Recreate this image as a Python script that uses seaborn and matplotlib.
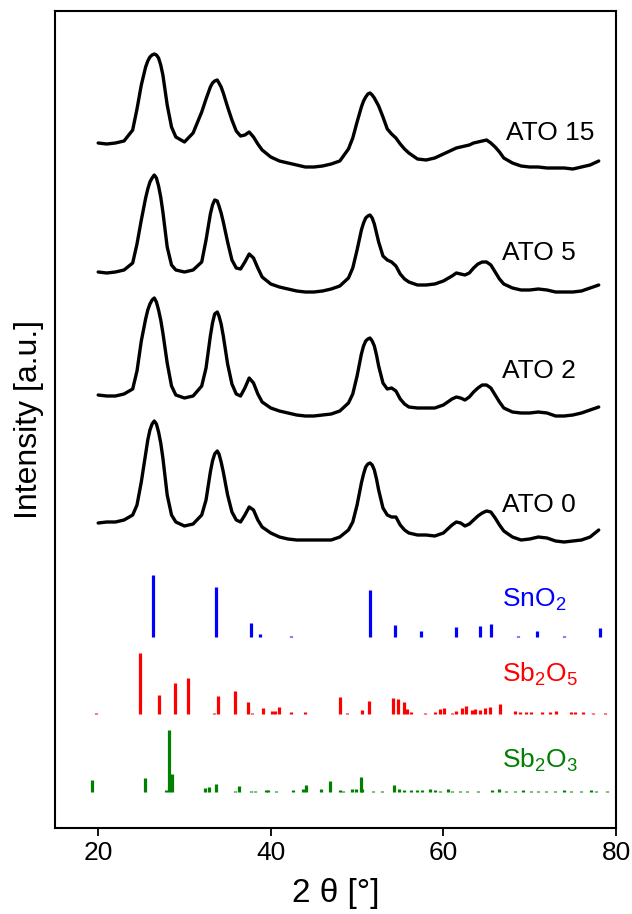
import matplotlib
matplotlib.use("Agg")
import matplotlib.pyplot as plt
import pandas as pd
import seaborn as sns

# 2theta grid shared by the four measured patterns
angles = [20, 21, 22, 23, 24, 24.5, 25, 25.5, 25.75, 26,
          26.25, 26.5, 26.75, 27, 27.25, 27.5, 28, 28.5, 29, 30,
          31, 32, 32.5, 33, 33.25, 33.5, 33.8, 34, 34.25, 34.5,
          35, 35.5, 36, 36.5, 37, 37.5, 38, 38.5, 39, 40,
          41, 42, 43, 44, 45, 46, 47, 48, 49, 49.5,
          50, 50.5, 50.75, 51, 51.25, 51.5, 51.75, 52, 52.25, 52.5,
          53, 53.5, 54, 54.5, 55, 55.5, 56, 57, 58, 59,
          60, 61, 61.5, 62, 62.5, 63, 63.5, 64, 64.5, 65,
          65.5, 66, 66.5, 67, 68, 69, 70, 71, 72, 73,
          74, 75, 76, 77, 78]

ato0 = [17, 18, 18, 20, 25, 35, 58, 86, 100, 110,
        116, 119, 116, 108, 97, 82, 45, 25, 18, 14,
        16, 25, 40, 68, 79, 86, 89, 86, 78, 68,
        45, 28, 20, 18, 25, 33, 30, 20, 13, 7,
        3, 1, 0, 0, 0, 0, 0, 3, 10, 18,
        35, 57, 66, 73, 76, 77, 75, 70, 61, 50,
        32, 25, 23, 23, 15, 10, 7, 5, 5, 4,
        7, 15, 18, 17, 14, 16, 20, 24, 27, 29,
        28, 22, 15, 9, 3, 0, 1, 3, 2, -1,
        -2, -1, 0, 3, 10]
ato2 = [21, 20, 20, 22, 27, 45, 75, 97, 106, 112,
        116, 118, 114, 106, 96, 83, 53, 30, 21, 18,
        20, 30, 48, 80, 93, 102, 104, 100, 92, 80,
        52, 32, 22, 20, 28, 38, 33, 22, 14, 8,
        5, 3, 1, 0, 0, 1, 2, 5, 13, 22,
        40, 62, 70, 75, 77, 78, 75, 70, 61, 50,
        33, 27, 28, 25, 17, 12, 9, 8, 8, 8,
        11, 17, 19, 18, 16, 19, 24, 28, 31, 31,
        28, 21, 14, 8, 4, 3, 3, 4, 3, 0,
        0, 1, 3, 6, 9]
ato5 = [20, 19, 20, 22, 29, 48, 72, 94, 103, 110,
        114, 117, 114, 106, 95, 80, 45, 27, 22, 20,
        22, 30, 52, 78, 87, 92, 91, 86, 79, 70,
        50, 32, 24, 23, 30, 38, 34, 24, 15, 8,
        5, 3, 1, 0, 0, 1, 3, 6, 14, 24,
        42, 62, 69, 74, 76, 77, 74, 68, 59, 50,
        36, 32, 30, 26, 18, 13, 10, 7, 7, 8,
        11, 16, 19, 18, 17, 19, 24, 28, 30, 30,
        27, 20, 13, 8, 4, 2, 2, 3, 2, 0,
        0, 0, 1, 4, 7]
ato15 = [24, 23, 24, 26, 37, 58, 82, 100, 106, 110,
         112, 113, 112, 109, 102, 92, 62, 40, 30, 25,
         34, 55, 68, 80, 84, 86, 87, 84, 80, 74,
         60, 47, 36, 31, 32, 35, 30, 23, 17, 10,
         6, 4, 2, 0, 0, 1, 3, 6, 18, 29,
         45, 60, 66, 70, 73, 74, 72, 69, 65, 61,
         50, 38, 33, 29, 23, 18, 14, 8, 7, 9,
         13, 17, 19, 20, 21, 22, 24, 25, 26, 27,
         24, 20, 15, 9, 4, 1, 0, 0, -1, -1,
         -1, -2, 0, 2, 6]

samples = ["ATO 0", "ATO 2", "ATO 5", "ATO 15"]
patterns = [ato0, ato2, ato5, ato15]
offsets = [288, 412, 536, 661]

# reference stick patterns (2theta, relative intensity)
sno2_pos = [26.4, 33.6, 37.7, 38.7, 42.3, 51.5, 54.4, 57.4, 61.5, 64.3, 65.5, 68.7, 70.8, 74.0, 78.1]
sno2_int = [62, 50, 14, 2.7, 1, 47, 12, 6, 10, 11, 13, 0.7, 6, 0.7, 9]

sb2o5_pos = [19.8, 24.9, 27.1, 28.9, 30.4, 33.4, 33.9, 35.9, 37.4, 37.8, 39.1, 40.1, 40.5, 40.9,
             42.4, 44.0, 48.0, 48.8, 50.6, 51.4, 54.2, 54.7, 55.4, 55.8, 56.2, 57.9, 59.0, 59.6,
             60.1, 61.0, 61.5, 62.1, 62.6, 63.3, 63.7, 64.2, 64.8, 65.4, 66.6, 68.3, 68.9, 69.6,
             70.2, 71.4, 72.3, 73.1, 74.8, 75.3, 76.2, 77.3, 78.7]
sb2o5_int = [1, 61, 19, 31, 36, 1.5, 18, 23, 12, 1, 6, 3, 3, 7,
             1.7, 2, 17, 1, 4, 13, 16, 15, 12, 5, 2, 1, 2, 5,
             6, 1, 3, 6, 8, 4, 5, 4, 6, 7, 10, 3, 2, 2,
             2, 2, 2.5, 3, 2.5, 2, 2, 1.5, 1]

sb2o3_pos = [19.3, 25.4, 27.9, 28.2, 28.6, 32.4, 32.9, 33.6, 35.9, 36.3, 37.7, 38.2, 39.4, 39.7,
             40.6, 42.6, 43.7, 44.1, 45.8, 46.9, 48.0, 48.4, 49.4, 49.9, 50.4, 50.6, 51.9, 52.9,
             54.3, 54.8, 55.4, 56.2, 56.9, 57.5, 58.4, 59.0, 59.6, 60.5, 61.0, 61.9, 62.7, 64.0,
             65.6, 66.4, 67.3, 68.3, 69.2, 70.2, 71.0, 71.9, 72.9, 74.0, 74.8, 75.9, 77.1, 77.7, 79.0]
sb2o3_int = [12, 14, 1.7, 62, 18, 4, 5, 8, 1, 6, 1, 1, 2.3, 2,
             1.3, 2.3, 3.3, 7, 3.3, 11, 1.7, 1, 3.3, 3, 15, 3.3, 0.7, 0.7,
             7, 3.3, 2, 2, 2, 2, 3.3, 2, 1.5, 3.3, 1, 1, 1.5, 1,
             2, 3.3, 1.5, 1.5, 2, 1.5, 1.5, 1.5, 1.5, 2, 1, 1.5, 2, 1.5, 1]

refs = [("SnO$_2$", sno2_pos, sno2_int, "#0000ff", 191),
        ("Sb$_2$O$_5$", sb2o5_pos, sb2o5_int, "#ff0000", 114),
        ("Sb$_2$O$_3$", sb2o3_pos, sb2o3_int, "#008000", 36)]

sns.set_style("ticks")
plt.rcParams["font.family"] = ["Liberation Sans", "DejaVu Sans"]
plt.rcParams["mathtext.fontset"] = "custom"
plt.rcParams["mathtext.rm"] = "Liberation Sans"
plt.rcParams["mathtext.it"] = "Liberation Sans:italic"
plt.rcParams["text.color"] = "black"
plt.rcParams["axes.labelcolor"] = "black"
plt.rcParams["xtick.color"] = "black"

fig = plt.figure(figsize=(6.32, 9.14), dpi=100)
ax = fig.add_axes([55 / 632, 86 / 914, 561 / 632, 817 / 914])

rows = []
for name, vals, off in zip(samples, patterns, offsets):
    for a, v in zip(angles, vals):
        rows.append({"angle": a, "intensity": v + off, "sample": name})
df = pd.DataFrame(rows)

sns.lineplot(data=df, x="angle", y="intensity", units="sample", estimator=None,
             color="black", linewidth=2.4, sort=True, ax=ax)

label_y = [316, 450, 568, 688]
for name, ly in zip(samples, label_y):
    lx = 67.3 if name == "ATO 15" else 66.8
    ax.text(lx, ly, name, fontsize=19, color="black", va="baseline", ha="left")

ref_label_y = [221, 146, 60]
for (name, pos, inten, col, base), ly in zip(refs, ref_label_y):
    ax.vlines(pos, base, [base + i for i in inten], color=col, linewidth=2.3)
    ax.text(66.8, ly, name, fontsize=19, color=col, va="baseline", ha="left")

ax.set_xlim(15, 80)
ax.set_ylim(0, 817)
ax.set_xticks([20, 40, 60, 80])
ax.set_yticks([])
ax.tick_params(axis="x", labelsize=19, length=6, width=1.3, direction="out",
               colors="black")
for s in ax.spines.values():
    s.set_linewidth(1.5)
    s.set_color("black")
ax.set_xlabel("2 θ [°]", fontsize=24, labelpad=9)
ax.set_ylabel("Intensity [a.u.]", fontsize=23, labelpad=8)

fig.savefig("out.png", dpi=100)
